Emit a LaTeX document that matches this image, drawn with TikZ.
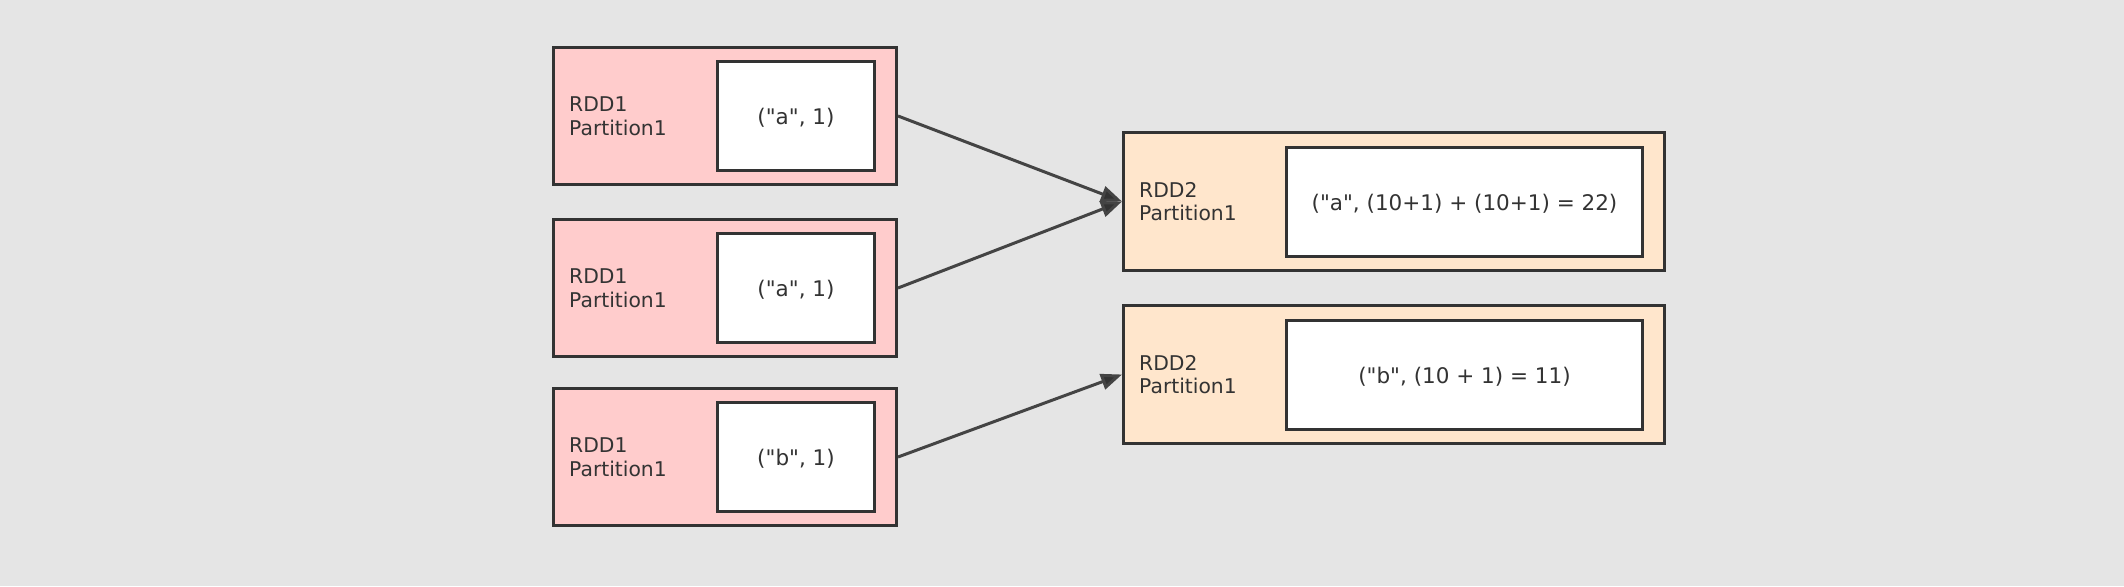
\documentclass[tikz,border=0pt]{standalone}
\usepackage{fontspec}
\setmainfont{DejaVu Sans}[Ligatures=TeXOff]
\usetikzlibrary{arrows.meta}
\definecolor{bg}{HTML}{E5E5E5}
\definecolor{pinkf}{HTML}{FFCCCC}
\definecolor{peachf}{HTML}{FFE6CC}
\definecolor{edge}{HTML}{333333}
\definecolor{linec}{HTML}{444444}
\definecolor{txt}{HTML}{333333}
\tikzset{
  outerL/.style={draw=edge, line width=3pt, fill=pinkf, minimum width=343pt, minimum height=137pt, inner sep=0pt},
  outerR/.style={draw=edge, line width=3pt, fill=peachf, minimum width=541pt, minimum height=138pt, inner sep=0pt},
  innerL/.style={draw=edge, line width=3pt, fill=white, minimum width=157pt, minimum height=109pt, inner sep=0pt},
  innerR/.style={draw=edge, line width=3pt, fill=white, minimum width=356pt, minimum height=109pt, inner sep=0pt},
  val/.style={inner sep=0pt, font=\fontsize{21.5}{25}\selectfont, text=txt},
  lbl/.style={anchor=west, align=left, inner sep=0pt, font=\fontsize{20.3}{23.5}\selectfont, text=txt},
  conn/.style={draw=linec, line width=3pt, -{Triangle[length=21pt,width=16pt,fill=edge]}}
}
\begin{document}
\begin{tikzpicture}[x=1pt,y=-1pt]
\useasboundingbox[fill=bg] (0,0) rectangle (2124,586);
% left boxes
\node[outerL] (l1) at (725,116) {};
\node[outerL] (l2) at (725,288) {};
\node[outerL] (l3) at (725,457) {};
\node[innerL] (il1) at (796,116) {};
\node[innerL] (il2) at (796,288) {};
\node[innerL] (il3) at (796,457) {};
\node[val] (v1) at ([yshift=-2pt]il1.center) {("a", 1)};
\node[val] (v2) at ([yshift=-2pt]il2.center) {("a", 1)};
\node[val] (v3) at ([yshift=-2pt]il3.center) {("b", 1)};
\node[lbl] (t1) at (569,116) {RDD1\\Partition1};
\node[lbl] (t2) at (569,288) {RDD1\\Partition1};
\node[lbl] (t3) at (569,457) {RDD1\\Partition1};
% right boxes
\node[outerR] (r1) at (1394,201.5) {};
\node[outerR] (r2) at (1394,374.5) {};
\node[innerR] (ir1) at (1464.5,201.5) {};
\node[innerR] (ir2) at (1464.5,374.5) {};
\node[val] (w1) at ([yshift=-2pt]ir1.center) {("a", (10+1) + (10+1) = 22)};
\node[val] (w2) at ([yshift=-2pt]ir2.center) {("b", (10 + 1) = 11)};
\node[lbl] (s1) at (1139,201.5) {RDD2\\Partition1};
\node[lbl] (s2) at (1139,374.5) {RDD2\\Partition1};
% connectors
\draw[conn] (l1.east) -- (r1.west);
\draw[conn] (l2.east) -- (r1.west);
\draw[conn] (l3.east) -- (r2.west);
\end{tikzpicture}
\end{document}
